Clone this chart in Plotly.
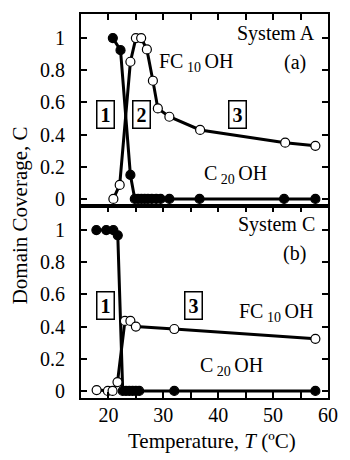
import plotly.graph_objects as go

# ---- data ----
# Panel (a): System A
a_c20_T = [20.8, 22.2, 24.0, 24.8, 25.4, 26.0, 26.6, 27.2, 27.9, 28.7, 29.5, 31.1, 36.6, 52.0, 57.7]
a_c20_C = [1.0, 0.925, 0.149, 0, 0, 0, 0, 0, 0, 0, 0, 0, 0, 0, 0]
a_fc10_T = [20.9, 22.05, 24.0, 25.0, 25.96, 27.0, 28.1, 29.0, 31.1, 36.7, 52.2, 57.7]
a_fc10_C = [0, 0.087, 0.853, 1.0, 1.0, 0.93, 0.735, 0.563, 0.511, 0.429, 0.35, 0.33]
# Panel (b): System C
b_c20_T = [17.8, 19.6, 20.9, 21.7, 22.6, 23.2, 23.8, 24.4, 25.0, 25.6, 32.0, 57.7]
b_c20_C = [1.0, 1.0, 1.0, 0.968, 0, 0, 0, 0, 0, 0, 0, 0]
b_fc10_T = [17.85, 19.9, 20.75, 21.65, 23.0, 24.0, 25.0, 32.0, 57.7]
b_fc10_C = [0.005, 0, 0, 0.055, 0.435, 0.435, 0.40, 0.385, 0.324]

x_tickvals = [15, 20, 25, 30, 35, 40, 45, 50, 55, 60]
x_ticktext = ["", "20", "", "30", "", "40", "", "50", "", "60"]
y_tickvals = [0, 0.2, 0.4, 0.6, 0.8, 1]
y_ticktext = ["0", "0.2", "0.4", "0.6", "0.8", "1"]

FONT = "Liberation Serif"
fig = go.Figure()

def add_series(T, C, filled, yref):
    fig.add_trace(go.Scatter(
        x=T, y=C, mode="lines+markers", xaxis="x" if yref == "y" else "x2", yaxis=yref,
        line=dict(color="black", width=3),
        marker=dict(size=9, color="black" if filled else "white",
                    line=dict(color="black", width=1.2)),
        showlegend=False, hoverinfo="skip"))

add_series(a_c20_T, a_c20_C, True, "y")
add_series(a_fc10_T, a_fc10_C, False, "y")
add_series(b_c20_T, b_c20_C, True, "y2")
add_series(b_fc10_T, b_fc10_C, False, "y2")

axis_common = dict(range=[15, 60], showline=True, linecolor="black", linewidth=2,
                   ticks="inside", ticklen=6, tickwidth=1.5, tickcolor="black",
                   tickvals=x_tickvals, showgrid=False, zeroline=False)
yaxis_common = dict(range=[-0.044, 1.15], showline=True, linecolor="black", linewidth=2,
                    ticks="inside", ticklen=6, tickwidth=1.5, tickcolor="black",
                    mirror="ticks", tickvals=y_tickvals, ticktext=y_ticktext,
                    showgrid=False, zeroline=False,
                    tickfont=dict(family=FONT, size=20, color="black"),
                    ticklabelstandoff=10)

fig.update_layout(
    width=350, height=460,
    margin=dict(l=81, r=12, t=14, b=62),
    plot_bgcolor="white", paper_bgcolor="white",
    xaxis=dict(**axis_common, side="top", mirror=True, showticklabels=False,
               anchor="y", domain=[0, 1]),
    xaxis2=dict(**axis_common, mirror="ticks", ticktext=x_ticktext,
                tickfont=dict(family=FONT, size=20, color="black"),
                anchor="y2", matches="x", ticklabelstandoff=-2),
    yaxis=dict(**yaxis_common, domain=[0.5, 1], anchor="x"),
    yaxis2=dict(**yaxis_common, domain=[0, 0.5], anchor="x2"),
    font=dict(family=FONT, size=20, color="black"),
)

ann = []
def txt(x, y, text, yref, xanchor="left", size=20):
    ann.append(dict(x=x, y=y, xref="x", yref=yref, text=text, showarrow=False,
                    xanchor=xanchor, yanchor="middle",
                    font=dict(family=FONT, size=size, color="black")))

def box(x, y, text, yref):
    ann.append(dict(x=x, y=y, xref="x", yref=yref, text="<b>%s</b>" % text, showarrow=False,
                    xanchor="center", yanchor="middle", bordercolor="black", borderwidth=1.5,
                    borderpad=2, bgcolor="white", width=12, height=22,
                    font=dict(family=FONT, size=20, color="black")))

# panel a
txt(58.07, 1.031, "System A", "y", xanchor="right")
txt(53.9, 0.851, "(a)", "y", xanchor="center")
txt(28.83, 0.85, "FC<sub> 10 </sub>OH", "y")
txt(37.06, 0.149, "C<sub> 20 </sub>OH", "y")
box(19.38, 0.528, "1", "y")
box(25.94, 0.528, "2", "y")
box(43.54, 0.528, "3", "y")
# panel b
txt(58.07, 1.034, "System C", "y2", xanchor="right")
txt(53.9, 0.853, "(b)", "y2", xanchor="center")
txt(43.37, 0.486, "FC<sub> 10 </sub>OH", "y2")
txt(36.36, 0.15, "C<sub> 20 </sub>OH", "y2")
box(19.38, 0.53, "1", "y2")
box(35.57, 0.53, "3", "y2")

# axis titles
ann.append(dict(x=-0.249, y=0.477, xref="paper", yref="paper", text="Domain Coverage, C",
                showarrow=False, textangle=-90, xanchor="center", yanchor="middle",
                font=dict(family=FONT, size=21, color="black")))
ann.append(dict(x=0.53, y=-0.112, xref="paper", yref="paper",
                text="Temperature, <i>T</i> (ºC)", showarrow=False,
                xanchor="center", yanchor="middle",
                font=dict(family=FONT, size=21, color="black")))
fig.update_layout(annotations=ann)

fig.write_html("out.html")
